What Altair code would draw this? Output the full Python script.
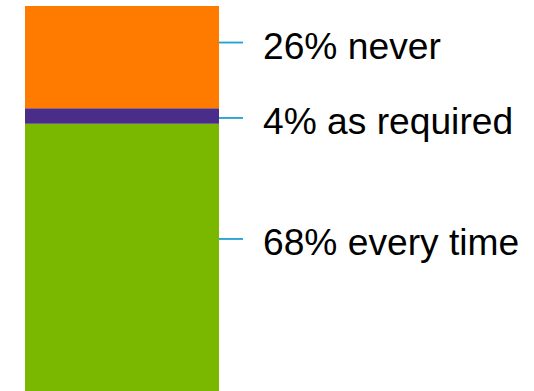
import altair as alt
import pandas as pd

# Data
categories = ["every time", "as required", "never"]
percents = [68, 4, 26]
colors = ["#7AB800", "#4A2D88", "#FF7B00"]
# value (in % units on the bar's scale) where each label's leader line points
label_anchor = [38.7, 69.5, 88.7]

labels = [f"{p}% {c}" for p, c in zip(percents, categories)]

df = pd.DataFrame({
    "group": ["all"] * len(categories),
    "category": categories,
    "pct": percents,
    "rank": list(range(len(categories))),
    "anchor": label_anchor,
    "label": labels,
})

yscale = alt.Scale(domain=[0, sum(percents)], nice=False, zero=True)
xscale = alt.Scale(range=[25, 219], paddingInner=0, paddingOuter=0)

bars = alt.Chart(df).mark_bar().encode(
    x=alt.X("group:N", scale=xscale, axis=None),
    y=alt.Y("pct:Q", stack="zero", scale=yscale, axis=None),
    color=alt.Color("category:N", scale=alt.Scale(domain=categories, range=colors), legend=None),
    order=alt.Order("rank:Q"),
)

rules = alt.Chart(df).mark_rule(color="#1DA1D2", strokeWidth=1.8).encode(
    x=alt.value(219),
    x2=alt.value(243),
    y=alt.Y("anchor:Q", scale=yscale, axis=None),
)

texts = alt.Chart(df).mark_text(
    align="left", baseline="alphabetic", dy=16, fontSize=37.2,
    font="Liberation Sans", color="#000000",
).encode(
    x=alt.value(263),
    y=alt.Y("anchor:Q", scale=yscale, axis=None),
    text="label:N",
)

chart = alt.layer(bars, rules, texts).properties(
    width=534,
    height=385,
    padding={"left": 0, "top": 6, "right": 0, "bottom": 0},
    autosize=alt.AutoSizeParams(type="none"),
    background="white",
).configure_view(stroke=None)

chart.save("out.html", embed_options={"renderer": "svg", "actions": False})
